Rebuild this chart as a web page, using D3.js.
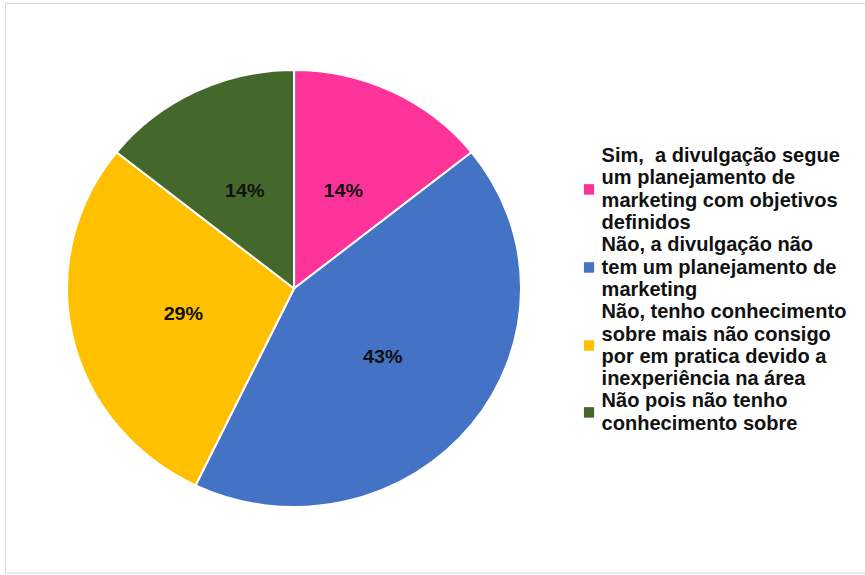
<!DOCTYPE html>
<html>
<head>
<meta charset="utf-8">
<script src="https://cdn.jsdelivr.net/npm/d3@7"></script>
<style>
  html, body { margin: 0; padding: 0; background: #fff; }
  svg { display: block; }
  text { font-family: "Liberation Sans", Arial, sans-serif; }
</style>
</head>
<body>
<svg id="chart" width="865" height="575"></svg>
<script>
// Answers (response counts) for each option
const categories = [
  "Sim,  a divulgação segue\num planejamento de\nmarketing com objetivos\ndefinidos",
  "Não, a divulgação não\ntem um planejamento de\nmarketing",
  "Não, tenho conhecimento\nsobre mais não consigo\npor em pratica devido a\ninexperiência na área",
  "Não pois não tenho\nconhecimento sobre"
];
const values = [1, 3, 2, 1];
const colors = ["#FE3399", "#4472C4", "#FFC000", "#44682C"];

const svg = d3.select("#chart");

// outer frame
svg.append("rect")
  .attr("x", 5.5).attr("y", 3.5)
  .attr("width", 862).attr("height", 569.5)
  .attr("fill", "#fff")
  .attr("stroke", "#d9d9d9")
  .attr("stroke-width", 1);

// chart body is drawn slightly widened horizontally
const g = svg.append("g").attr("transform", "scale(1.039,1)");

const cx = 283, cy = 288.5, R = 218.5;
const total = d3.sum(values);
const color = d3.scaleOrdinal().domain(categories).range(colors);

const pie = d3.pie().sort(null).value(d => d.value);
const arcs = pie(categories.map((c, i) => ({ name: c, value: values[i] })));
const arc = d3.arc().innerRadius(0).outerRadius(R);

const pieG = g.append("g").attr("transform", `translate(${cx},${cy})`);

pieG.selectAll("path.slice")
  .data(arcs)
  .join("path")
  .attr("class", "slice")
  .attr("d", arc)
  .attr("fill", d => color(d.data.name))
  .attr("stroke", "#fff")
  .attr("stroke-width", 2)
  .attr("stroke-linejoin", "round");

pieG.selectAll("text.pct")
  .data(arcs)
  .join("text")
  .attr("class", "pct")
  .attr("transform", d => `translate(${arc.centroid(d)})`)
  .attr("text-anchor", "middle")
  .attr("dy", "0.36em")
  .attr("font-size", "19px")
  .attr("font-weight", "bold")
  .attr("fill", "#111")
  .text(d => d3.format(".0%")(d.value / total));

// legend
const lineH = 22.3;
const legX = 562, textX = 579, firstBaseline = 162.2;
const legend = g.append("g");
let line = 0;
categories.forEach((c, i) => {
  const lines = c.split("\n");
  const startBase = firstBaseline + line * lineH;
  const centerY = startBase - 6.5 + (lines.length - 1) * lineH / 2;
  legend.append("rect")
    .attr("x", legX).attr("y", centerY - 5)
    .attr("width", 9.8).attr("height", 10.5)
    .attr("fill", colors[i]);
  const t = legend.append("text")
    .attr("x", textX).attr("y", startBase)
    .attr("font-size", "19.3px")
    .attr("font-weight", "bold")
    .attr("fill", "#111")
    .style("white-space", "pre");
  lines.forEach((s, k) => {
    t.append("tspan").attr("x", textX).attr("y", startBase + k * lineH).text(s);
  });
  line += lines.length;
});
</script>
</body>
</html>
